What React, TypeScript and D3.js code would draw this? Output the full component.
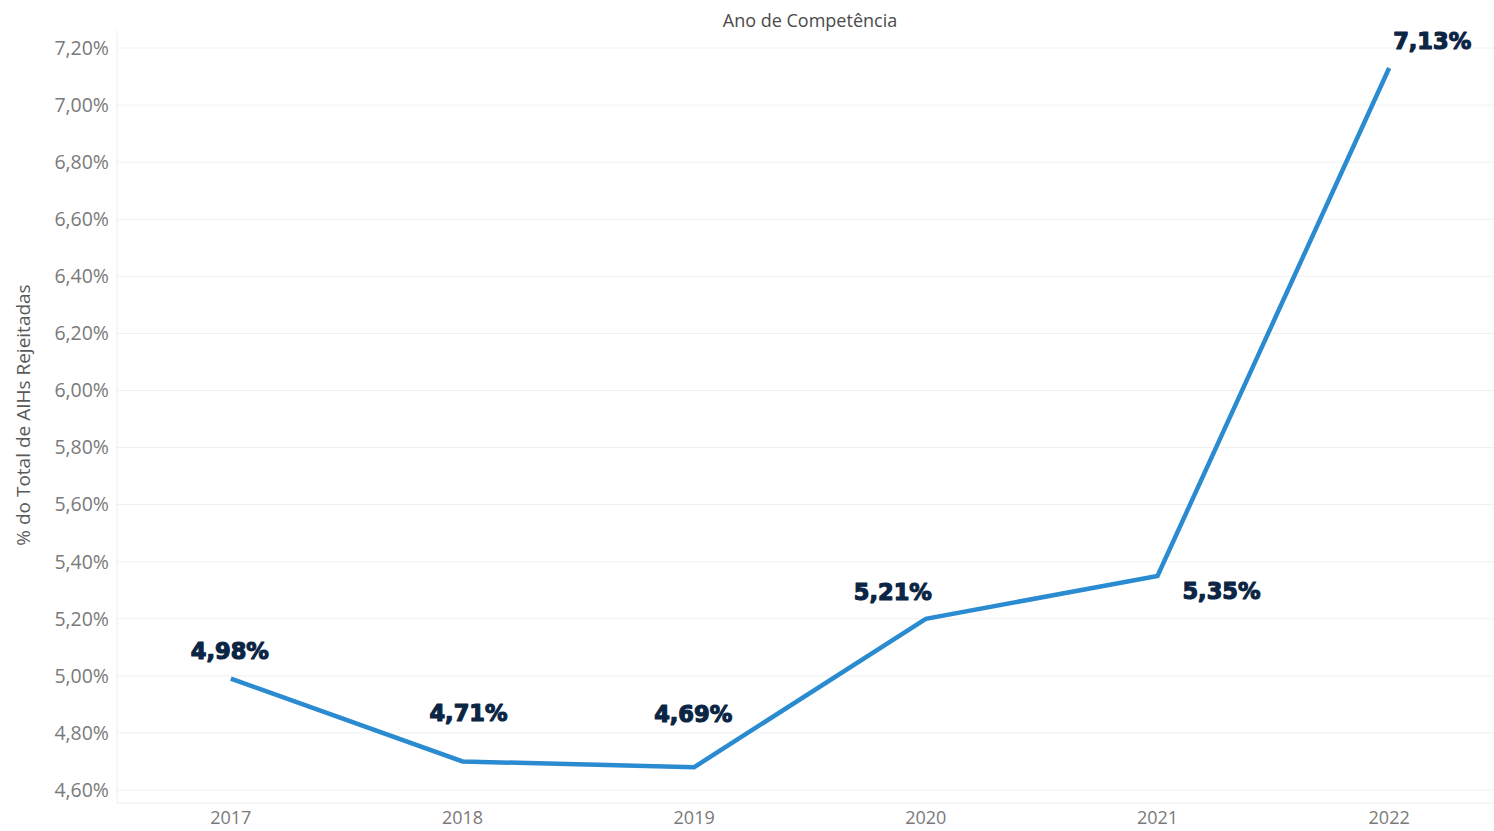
import React from "react";
import * as d3 from "d3";

const years = ["2017", "2018", "2019", "2020", "2021", "2022"];
const values = [4.99, 4.70, 4.68, 5.2, 5.35, 7.13];
const labels = ["4,98%", "4,71%", "4,69%", "5,21%", "5,35%", "7,13%"];
const yTicks = [4.6, 4.8, 5.0, 5.2, 5.4, 5.6, 5.8, 6.0, 6.2, 6.4, 6.6, 6.8, 7.0, 7.2];
// label offsets relative to point (style config)
const labelDx = [-1, 6, -1, -33, 64, 43];
const labelDy = [-20, -40, -45, -19, 23, -19];

const W = 1494;
const H = 831;

export default function App() {
  const x = d3.scaleBand<string>().domain(years).range([115, 1505]).padding(0);
  const y = d3.scaleLinear().domain([4.6, 7.2]).range([790, 48]);
  const cx = (yr: string) => (x(yr) as number) + x.bandwidth() / 2;
  const line = d3
    .line<number>()
    .x((_, i) => cx(years[i]))
    .y((d) => y(d));
  const fmt = (v: number) => v.toFixed(2).replace(".", ",") + "%";

  return (
    <svg
      width={W}
      height={H}
      style={{ position: "absolute", left: 0, top: 0, background: "#fff" }}
      fontFamily="'Open Sans', 'Noto Sans', sans-serif"
    >
      <rect x={0} y={0} width={W} height={H} fill="#fff" />
      {yTicks.map((t) => (
        <line key={t} x1={117} x2={W} y1={y(t)} y2={y(t)} stroke="#f0f0f0" strokeWidth={1} />
      ))}
      <line x1={117} x2={117} y1={30} y2={803} stroke="#eeeeee" strokeWidth={1} />
      <line x1={117} x2={W} y1={803} y2={803} stroke="#eeeeee" strokeWidth={1} />
      {yTicks.map((t) => (
        <text key={t} x={109} y={y(t)} dy="0.35em" textAnchor="end" fontSize={19.5} fill="#7a7a7a">
          {fmt(t)}
        </text>
      ))}
      {years.map((yr) => (
        <text key={yr} x={cx(yr)} y={824} textAnchor="middle" fontSize={18} fill="#7a7a7a">
          {yr}
        </text>
      ))}
      <text x={810} y={27} textAnchor="middle" fontSize={18} fill="#4a4a4a">
        Ano de Competência
      </text>
      <text
        transform={`translate(30,415) rotate(-90)`}
        textAnchor="middle"
        fontSize={19}
        fill="#5a5a5a"
      >
        % do Total de AIHs Rejeitadas
      </text>
      <path d={line(values) as string} fill="none" stroke="#2a8bd0" strokeWidth={4.5} strokeLinejoin="miter" />
      {values.map((v, i) => (
        <text
          key={i}
          x={cx(years[i]) + labelDx[i]}
          y={y(v) + labelDy[i]}
          textAnchor="middle"
          fontSize={22.5}
          fontWeight="bold"
          fontFamily="'DejaVu Sans', sans-serif"
          fill="#0b2545"
          stroke="#0b2545"
          strokeWidth={1.2}
          strokeLinejoin="round"
        >
          {labels[i]}
        </text>
      ))}
    </svg>
  );
}
